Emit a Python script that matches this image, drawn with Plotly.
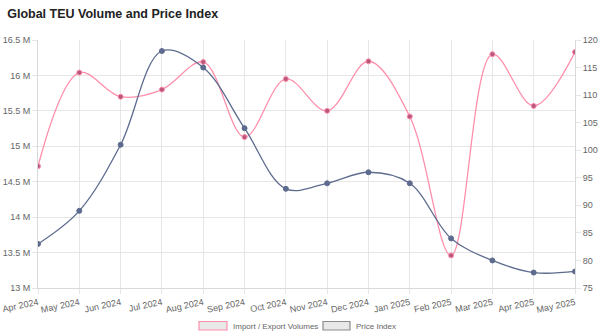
import plotly.graph_objects as go

months = ["Apr 2024", "May 2024", "Jun 2024", "Jul 2024", "Aug 2024", "Sep 2024",
          "Oct 2024", "Nov 2024", "Dec 2024", "Jan 2025", "Feb 2025", "Mar 2025",
          "Apr 2025", "May 2025"]
volumes_m = [14.72, 16.04, 15.70, 15.80, 16.19, 15.13, 15.95, 15.50, 16.20,
             15.42, 13.46, 16.30, 15.57, 16.33]
price_index = [83, 89, 101, 118, 115, 104, 93, 94, 96, 94, 84, 80, 77.8, 78.0]

vol_ticks = [13, 13.5, 14, 14.5, 15, 15.5, 16, 16.5]
vol_labels = ["13 M", "13.5 M", "14 M", "14.5 M", "15 M", "15.5 M", "16 M", "16.5 M"]
price_ticks = [75, 80, 85, 90, 95, 100, 105, 110, 115, 120]

PINK = "#ff8fab"
PINK_PT = "#b8577d"
BLUE = "#5d6b8e"
GRID = "#e6e6e6"
TXT = "#666666"
FONT = "Liberation Sans, Arial, sans-serif"

fig = go.Figure()
fig.add_trace(go.Scatter(
    x=months, y=volumes_m, name="Import / Export Volumes", mode="lines+markers",
    line=dict(color=PINK, width=1.3, shape="spline", smoothing=1.0),
    marker=dict(color=PINK_PT, size=5, line=dict(color=PINK, width=1)),
    showlegend=False, yaxis="y"))
fig.add_trace(go.Scatter(
    x=months, y=price_index, name="Price Index", mode="lines+markers",
    line=dict(color=BLUE, width=1.3, shape="spline", smoothing=1.0),
    marker=dict(color=BLUE, size=5, line=dict(color=BLUE, width=1)),
    showlegend=False, yaxis="y2"))

fig.update_layout(
    width=600, height=333,
    margin=dict(l=38, r=25, t=40, b=45),
    paper_bgcolor="white", plot_bgcolor="white",
    font=dict(family=FONT, size=9, color=TXT),
    title=dict(text="<b>Global TEU Volume and Price Index</b>", x=0.012, xanchor="left",
               y=0.958, yanchor="middle", font=dict(family=FONT, size=12.5, color="#222222")),
    xaxis=dict(type="category", range=[0, len(months) - 1], showgrid=True, gridcolor=GRID,
               tickangle=-12, ticks="outside", ticklen=5, tickcolor=GRID, automargin=False,
               showline=True, linecolor="#d9d9d9", linewidth=1, zeroline=False,
               tickfont=dict(size=9, color=TXT)),
    yaxis=dict(range=[13, 16.5], tickvals=vol_ticks, ticktext=vol_labels, showgrid=True,
               gridcolor=GRID, ticks="outside", ticklen=5, tickcolor=GRID, automargin=False,
               showline=True, linecolor="#d9d9d9", zeroline=False,
               tickfont=dict(size=9, color=TXT)),
    yaxis2=dict(range=[75, 120], tickvals=price_ticks, overlaying="y", side="right",
                showgrid=False, ticks="outside", ticklen=5, tickcolor=GRID, automargin=False,
                showline=True, linecolor="#d9d9d9", zeroline=False,
                tickfont=dict(size=9, color=TXT)),
)

# Legend drawn as boxes + text below the plot
legend_items = [("Import / Export Volumes", PINK, 199, 227), ("Price Index", "#8c8c8c", 323, 350)]
for label, col, x0, x1 in legend_items:
    fig.add_shape(type="rect", xref="paper", yref="paper",
                  x0=(x0 - 38) / 537, x1=(x1 - 38) / 537,
                  y0=(288 - 330) / 248, y1=(288 - 321.5) / 248,
                  fillcolor="#e8e8e8", line=dict(color=col, width=1.2))
    fig.add_annotation(text=label, xref="paper", yref="paper",
                       x=(x1 + 3.5 - 38) / 537, y=(288 - 326) / 248,
                       xanchor="left", yanchor="middle", showarrow=False,
                       font=dict(family=FONT, size=8, color=TXT))

fig.write_html("out.html")
